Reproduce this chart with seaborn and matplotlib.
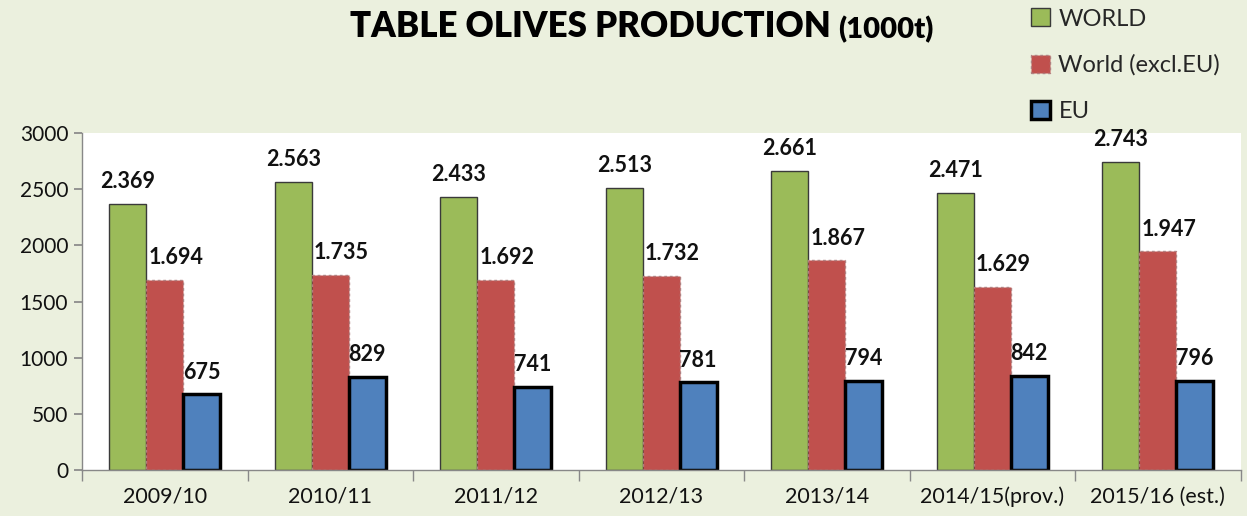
import numpy as np
import pandas as pd
import matplotlib
matplotlib.use("Agg")
import matplotlib.pyplot as plt
from matplotlib.patches import Patch
import seaborn as sns

# data (1000 t)
seasons = ["2009/10", "2010/11", "2011/12", "2012/13", "2013/14", "2014/15(prov.)", "2015/16 (est.)"]
world = [2369, 2563, 2433, 2513, 2661, 2471, 2743]
world_excl_eu = [1694, 1735, 1692, 1732, 1867, 1629, 1947]
eu = [675, 829, 741, 781, 794, 842, 796]
series = ["WORLD", "World (excl.EU)", "EU"]

df = pd.DataFrame({
    "season": seasons * 3,
    "value": world + world_excl_eu + eu,
    "series": [series[0]] * 7 + [series[1]] * 7 + [series[2]] * 7,
})

BG = "#EBF0DE"
colors = {"WORLD": "#9BBB59", "World (excl.EU)": "#C0504D", "EU": "#4F81BD"}
edges = {"WORLD": dict(edgecolor="#3a3a3a", linewidth=1.0, linestyle="-"),
         "World (excl.EU)": dict(edgecolor="#b08080", linewidth=1.0, linestyle=(0, (2, 2))),
         "EU": dict(edgecolor="black", linewidth=2.5, linestyle="-")}

sns.set_theme(style="ticks")
plt.rcParams["font.family"] = ["Lato", "DejaVu Sans"]

fig = plt.figure(figsize=(12.47, 5.16), dpi=100, facecolor=BG)
ax = fig.add_axes([0.0658, 0.089, 0.929, 0.653])
ax.set_facecolor("white")

sns.barplot(data=df, x="season", y="value", hue="series", hue_order=series,
            palette=colors, width=0.67, saturation=1, legend=False, ax=ax)

# bar edges + value labels
for cont, name in zip(ax.containers, series):
    for bar, v in zip(cont.patches, df.loc[df.series == name, "value"]):
        bar.set(**edges[name])
        txt = f"{v:,}".replace(",", ".")
        dx = 8 if name == "World (excl.EU)" else 0
        ax.annotate(txt, (bar.get_x() + bar.get_width() / 2, bar.get_height()),
                    xytext=(dx, 16), textcoords="offset points",
                    ha="center", va="center", fontsize=15.5, fontweight="bold",
                    color="#111111")

ax.set_ylim(0, 3000)
ax.set_yticks(np.arange(0, 3001, 500))
ax.set_xlim(-0.5, len(seasons) - 0.5)
ax.set_xlabel("")
ax.set_ylabel("")
ax.tick_params(axis="y", labelsize=15, length=6, pad=4, color="#888888", labelcolor="#111111")
ax.tick_params(axis="x", which="major", length=0, labelsize=15.5, pad=12, labelcolor="#111111")
ax.set_xticks(np.arange(-0.5, len(seasons), 1), minor=True)
ax.tick_params(axis="x", which="minor", length=8, color="#888888")
for s in ["top", "right"]:
    ax.spines[s].set_visible(False)
for s in ["left", "bottom"]:
    ax.spines[s].set_color("#888888")
    ax.spines[s].set_linewidth(1)

# title in two parts
t1 = fig.text(0.281, 0.948, "TABLE OLIVES PRODUCTION", ha="left", va="center",
              fontsize=25, fontweight="heavy", color="black")
fig.canvas.draw()
ax.annotate("(1000t)", xy=(1, 0), xycoords=t1, xytext=(5, 0), textcoords="offset points",
            ha="left", va="bottom", fontsize=21, fontweight="heavy", color="black",
            annotation_clip=False)

handles = [Patch(facecolor=colors[n], **edges[n]) for n in series]
fig.legend(handles, series, loc="upper left", bbox_to_anchor=(0.81, 1.025),
           frameon=False, fontsize=17, handlelength=0.8, handleheight=0.8,
           handletextpad=0.35, labelspacing=1.05)

fig.savefig("out.png", dpi=100, facecolor=BG)
